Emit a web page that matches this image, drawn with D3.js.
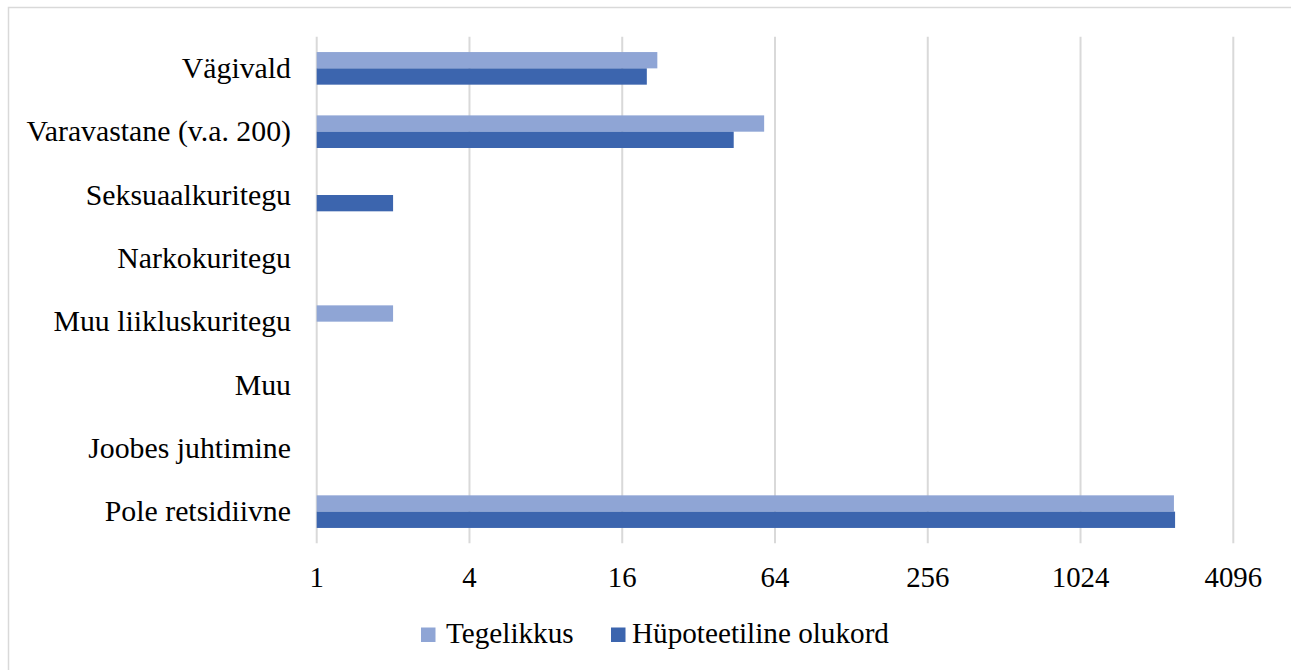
<!DOCTYPE html>
<html>
<head>
<meta charset="utf-8">
<script src="https://cdn.jsdelivr.net/npm/d3@7"></script>
<style>
  body { margin: 0; background: #fff; }
  text { font-family: "Liberation Serif", "Times New Roman", serif; fill: #000; }
</style>
</head>
<body>
<svg width="1291" height="670"></svg>
<script>
const categories = ['Vägivald', 'Varavastane (v.a. 200)', 'Seksuaalkuritegu', 'Narkokuritegu',
  'Muu liikluskuritegu', 'Muu', 'Joobes juhtimine', 'Pole retsidiivne'];
const seriesNames = ['Tegelikkus', 'Hüpoteetiline olukord'];
// 0 = no bar
const tegelikkus = [22, 58, 0, 0, 2, 0, 0, 2390];
const hypoteetiline = [20, 44, 2, 0, 0, 0, 0, 2415];
const tickValues = [1, 4, 16, 64, 256, 1024, 4096];
const colors = ['#8FA5D5', '#3C65AE'];

const svg = d3.select('svg');

// outer frame
svg.append('rect')
    .attr('x', 8.5).attr('y', 7.5)
    .attr('width', 1300).attr('height', 700)
    .attr('fill', 'none')
    .attr('stroke', '#d9d9d9')
    .attr('stroke-width', 1.5);

const plotLeft = 316.7, plotRight = 1233.3, plotTop = 36.7, plotBottom = 543.3;

const x = d3.scaleLog().base(2)
    .domain([1, 4096])
    .range([plotLeft, plotRight]);

const y = d3.scaleBand()
    .domain(categories)
    .range([plotTop, plotBottom])
    .paddingInner(0.485)
    .paddingOuter(0.2425);

const sub = d3.scaleBand()
    .domain(seriesNames)
    .range([0, y.bandwidth()]);

// gridlines
svg.append('g')
  .selectAll('line')
  .data(tickValues)
  .join('line')
    .attr('x1', d => x(d)).attr('x2', d => x(d))
    .attr('y1', plotTop).attr('y2', plotBottom)
    .attr('stroke', '#d9d9d9')
    .attr('stroke-width', 2);

// x tick labels
svg.append('g')
  .selectAll('text')
  .data(tickValues)
  .join('text')
    .attr('x', d => x(d))
    .attr('y', 587)
    .attr('text-anchor', 'middle')
    .attr('font-size', 28.8)
    .text(d => d);

// category labels
svg.append('g')
  .selectAll('text')
  .data(categories)
  .join('text')
    .attr('x', 291)
    .attr('y', d => y(d) + y.bandwidth() / 2)
    .attr('dy', '0.32em')
    .attr('text-anchor', 'end')
    .attr('font-size', 29.8)
    .text(d => d);

// bars
const series = [tegelikkus, hypoteetiline];
series.forEach((vals, si) => {
  svg.append('g')
    .selectAll('rect')
    .data(categories.map((c, i) => ({ c, v: vals[i] })).filter(d => d.v > 0))
    .join('rect')
      .attr('x', x(1))
      .attr('y', d => y(d.c) + sub(seriesNames[si]))
      .attr('width', d => x(d.v) - x(1))
      .attr('height', sub.bandwidth())
      .attr('fill', colors[si]);
});

// legend
const legendX = [421, 611];
const legendTextX = [446, 632];
const legend = svg.append('g');
seriesNames.forEach((name, i) => {
  legend.append('rect')
    .attr('x', legendX[i]).attr('y', 627.5)
    .attr('width', 14.5).attr('height', 14.5)
    .attr('fill', colors[i]);
  legend.append('text')
    .attr('x', legendTextX[i])
    .attr('y', 643)
    .attr('font-size', 29.2)
    .text(name);
});
</script>
</body>
</html>
